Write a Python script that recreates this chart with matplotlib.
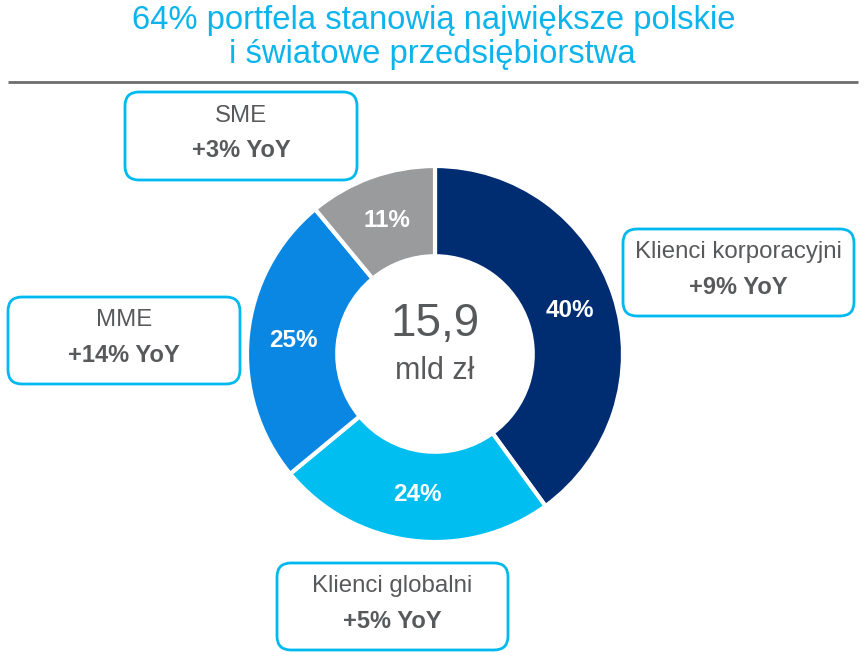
import matplotlib
matplotlib.use("Agg")
import matplotlib.pyplot as plt
from matplotlib.patches import FancyBboxPatch

plt.rcParams['font.family'] = ['Liberation Sans', 'DejaVu Sans']

# ---- data ----
segments = ['Klienci korporacyjni', 'Klienci globalni', 'MME', 'SME']
shares = [40, 24, 25, 11]
yoy_labels = ['+9% YoY', '+5% YoY', '+14% YoY', '+3% YoY']
total_value = '15,9'
total_unit = 'mld zł'
title_lines = ['64% portfela stanowią największe polskie', 'i światowe przedsiębiorstwa']

# ---- styles ----
colors = ['#002D72', '#00BEF0', '#0A87E3', '#9A9B9D']
title_color = '#0DB4EC'
text_color = '#58595B'
box_color = '#00B9EE'

W, H = 866, 655
fig = plt.figure(figsize=(W / 100, H / 100), dpi=100)

# overlay axes in pixel coordinates
ov = fig.add_axes([0, 0, 1, 1])
ov.set_xlim(0, W)
ov.set_ylim(H, 0)
ov.axis('off')

ov.text(434, 20, title_lines[0], color=title_color, fontsize=23.6, ha='center', va='center')
ov.text(432, 55, title_lines[1], color=title_color, fontsize=23.6, ha='center', va='center')
ov.plot([8, 858], [82, 82], color='#6E6E6E', lw=2, solid_capstyle='butt')

# donut
cx, cy, r = 435, 354, 188
ax = fig.add_axes([(cx - r) / W, 1 - (cy + r) / H, 2 * r / W, 2 * r / H])
wedges, _, autotexts = ax.pie(
    shares, colors=colors, startangle=90, counterclock=False, radius=1,
    autopct=lambda p: f'{p:.0f}%', pctdistance=0.755,
    wedgeprops=dict(width=0.48, edgecolor='white', linewidth=3),
    textprops=dict(color='white', fontsize=17.5, fontweight='bold'))
ax.set_xlim(-1, 1)
ax.set_ylim(-1, 1)
ax.set_aspect('equal')
ax.axis('off')
ax.text(0, 0.16, total_value, fontsize=33, color=text_color, ha='center', va='center')
ax.text(0, -0.09, total_unit, fontsize=22, color=text_color, ha='center', va='center')

# label boxes: (x0, y0, x1, y1) in pixels
boxes = [(623, 229, 854, 316), (277, 563, 508, 650), (8, 297, 240, 384), (125, 92, 357, 180)]
for (x0, y0, x1, y1), name, yoy in zip(boxes, segments, yoy_labels):
    p = FancyBboxPatch((x0 + 12, y0 + 12), (x1 - x0) - 24, (y1 - y0) - 24,
                       boxstyle='round,pad=12,rounding_size=14',
                       fc='white', ec=box_color, lw=2)
    ov.add_patch(p)
    xm = (x0 + x1) / 2
    h = y1 - y0
    ov.text(xm, y0 + h * 0.27, name, fontsize=17.3, color=text_color, ha='center', va='center')
    ov.text(xm, y0 + h * 0.67, yoy, fontsize=17, color=text_color, ha='center', va='center',
            fontweight='bold')

fig.savefig('out.png', dpi=100)
